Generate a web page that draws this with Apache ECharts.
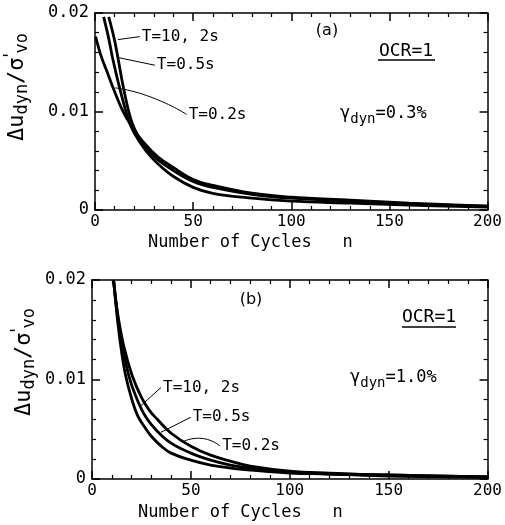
<!DOCTYPE html>
<html>
<head>
<meta charset="utf-8">
<script src="https://cdn.jsdelivr.net/npm/echarts@6/dist/echarts.min.js"></script>
<style>
  html, body { margin: 0; padding: 0; background: #fff; }
  #chart { width: 505px; height: 525px; }
</style>
</head>
<body>
<div id="chart"></div>
<script>
const FONT = 'DejaVu Sans Mono'

// panel (a), gamma_dyn = 0.3%   [n, du_dyn / sigma'_vo]
const a_T10 = [[7, 0.0196], [10, 0.0172], [12, 0.0151], [14.5, 0.0124], [18.3, 0.0092], [22, 0.0075], [26, 0.0063], [32, 0.0051], [40, 0.0040], [50, 0.0029], [60, 0.0023], [80, 0.0016], [100, 0.0012], [130, 0.0009], [160, 0.0006], [200, 0.0004]]
const a_T05 = [[4.4, 0.0196], [7, 0.0174], [9.1, 0.0153], [12.8, 0.0122], [17, 0.0092], [20, 0.0078], [26, 0.0060], [32, 0.0047], [40, 0.0034], [50, 0.0023], [60, 0.0017], [80, 0.0012], [100, 0.0009], [130, 0.0007], [160, 0.0005], [200, 0.0003]]
const a_T02 = [[0.3, 0.0176], [3, 0.0157], [6, 0.0141], [10, 0.0120], [14.5, 0.0099], [19, 0.0084], [25, 0.0068], [32, 0.0054], [40, 0.0043], [50, 0.0031], [60, 0.0025], [80, 0.0017], [100, 0.0013], [130, 0.0010], [160, 0.0007], [200, 0.0004]]

// panel (b), gamma_dyn = 1.0%
const b_T10 = [[10.9, 0.0200], [13, 0.0158], [15, 0.0127], [17, 0.0104], [20, 0.0081], [23, 0.0064], [27, 0.0051], [30, 0.0043], [35, 0.0033], [40, 0.0026], [50, 0.0019], [60, 0.0014], [70, 0.0011], [80, 0.0009], [100, 0.0006], [120, 0.0005], [150, 0.0003], [200, 0.0002]]
const b_T05 = [[10.9, 0.0200], [13, 0.0163], [15, 0.0137], [18.6, 0.0104], [22, 0.0084], [27, 0.0063], [33, 0.0048], [40, 0.0036], [50, 0.0026], [60, 0.0019], [70, 0.0014], [80, 0.0011], [100, 0.0007], [120, 0.0005], [150, 0.0004], [200, 0.0002]]
const b_T02 = [[10.9, 0.0200], [13, 0.0166], [16, 0.0134], [20.3, 0.0104], [25, 0.0082], [29, 0.0069], [33, 0.0060], [40, 0.0046], [50, 0.0033], [60, 0.0024], [70, 0.0018], [80, 0.0013], [100, 0.0008], [120, 0.0006], [150, 0.0004], [200, 0.0002]]

const curveNames = ['T=10, 2s', 'T=0.5s', 'T=0.2s']

// leader lines from curve to label text
const a_leaders = [
  [[11.7, 0.0173], [22.8, 0.0176]],
  [[11.2, 0.0155], [30.5, 0.0147]],
  [[10.2, 0.0124], [28, 0.0115], [46.7, 0.0097]]
]
const b_leaders = [
  [[24.9, 0.0074], [34.9, 0.0092]],
  [[34.9, 0.0047], [49.9, 0.0062]],
  [[45.5, 0.0037], [53.9, 0.0041], [64.8, 0.0033]]
]

const chart = echarts.init(document.getElementById('chart'), null, { renderer: 'canvas' })

const xAxis = (grid, pos) => ({
  type: 'value', gridIndex: grid, position: pos,
  min: 0, max: 200, interval: 50,
  axisLine: { show: true, onZero: false, lineStyle: { color: '#000', width: 1.5 } },
  axisTick: { show: true, inside: true, length: 8, lineStyle: { color: '#000', width: 1.5 } },
  minorTick: { show: true, splitNumber: 5, length: 4, lineStyle: { color: '#000', width: 1.2 } },
  axisLabel: { show: pos === 'bottom', margin: 4, color: '#000', fontFamily: FONT, fontSize: 16 },
  splitLine: { show: false }
})

const yAxis = (grid, pos) => ({
  type: 'value', gridIndex: grid, position: pos,
  min: 0, max: 0.02, interval: 0.01,
  axisLine: { show: true, onZero: false, lineStyle: { color: '#000', width: 1.5 } },
  axisTick: { show: true, inside: true, length: 8, lineStyle: { color: '#000', width: 1.5 } },
  minorTick: { show: true, splitNumber: 5, length: 4, lineStyle: { color: '#000', width: 1.2 } },
  axisLabel: {
    show: pos === 'left', margin: 6, color: '#000', fontFamily: FONT, fontSize: 17,
    formatter: v => v === 0 ? '0' : v.toFixed(2)
  },
  splitLine: { show: false }
})

const curve = (data, xi, yi) => ({
  type: 'line', data, xAxisIndex: xi, yAxisIndex: yi,
  smooth: 0.4, symbol: 'none', silent: true,
  lineStyle: { color: '#000', width: 2.8 }
})

const leader = (data, name, xi, yi) => ({
  type: 'line', data, xAxisIndex: xi, yAxisIndex: yi,
  smooth: data.length > 2 ? 0.6 : false, symbol: 'none', silent: true,
  lineStyle: { color: '#000', width: 1 },
  endLabel: { show: true, formatter: name, distance: 2, color: '#000', fontFamily: FONT, fontSize: 16 }
})

const txt = (x, y, text, extra) => ({
  type: 'text', x, y, silent: true,
  style: Object.assign({ text, fill: '#000', font: '17px ' + FONT, align: 'center', verticalAlign: 'middle' }, extra || {})
})

const richGamma = (x, y, val) => ({
  type: 'text', x, y, silent: true,
  style: {
    text: '{m|γ}{s|dyn}{m|=' + val + '}',
    fill: '#000', align: 'left', verticalAlign: 'middle',
    rich: {
      m: { fontFamily: FONT, fontSize: 17, lineHeight: 24, verticalAlign: 'middle' },
      s: { fontFamily: FONT, fontSize: 14, lineHeight: 12, verticalAlign: 'bottom' }
    }
  }
})

const richY = (x, y) => ({
  type: 'text', x, y, rotation: Math.PI / 2, silent: true,
  style: {
    text: '{m|Δu}{s|dyn}{m|/σ}{p|\'}{s|vo}',
    fill: '#000', align: 'center', verticalAlign: 'middle',
    rich: {
      m: { fontFamily: FONT, fontSize: 22, lineHeight: 28, verticalAlign: 'middle' },
      s: { fontFamily: FONT, fontSize: 17, lineHeight: 13, verticalAlign: 'bottom' },
      p: { fontFamily: FONT, fontSize: 17, lineHeight: 13, verticalAlign: 'top', width: 4 }
    }
  }
})

const option = {
  animation: false,
  backgroundColor: '#fff',
  grid: [
    { left: 95, top: 13, width: 394, height: 197 },
    { left: 92, top: 280, width: 401, height: 199 }
  ],
  xAxis: [xAxis(0, 'bottom'), xAxis(0, 'top'), xAxis(1, 'bottom'), xAxis(1, 'top')],
  yAxis: [yAxis(0, 'left'), yAxis(0, 'right'), yAxis(1, 'left'), yAxis(1, 'right')],
  series: [
    curve(a_T10, 0, 0), curve(a_T05, 0, 0), curve(a_T02, 0, 0),
    curve(b_T10, 2, 2), curve(b_T05, 2, 2), curve(b_T02, 2, 2),
    ...a_leaders.map((d, i) => leader(d, curveNames[i], 0, 0)),
    ...b_leaders.map((d, i) => leader(d, curveNames[i], 2, 2))
  ],
  graphic: [
    richY(17, 87),
    richY(24, 362),
    txt(148, 243, 'Number of Cycles   n', { align: 'left' }),
    txt(138, 513, 'Number of Cycles   n', { align: 'left' }),
    txt(327, 31, '(a)', { font: '16px DejaVu Sans' }),
    txt(406, 51, 'OCR=1', { font: '18px ' + FONT }),
    { type: 'line', silent: true, shape: { x1: 378, y1: 60, x2: 435, y2: 60 }, style: { stroke: '#000', lineWidth: 1.3 } },
    richGamma(340, 114, '0.3%'),
    txt(251, 300, '(b)', { font: '16px DejaVu Sans' }),
    txt(429, 317, 'OCR=1', { font: '18px ' + FONT }),
    { type: 'line', silent: true, shape: { x1: 402, y1: 327, x2: 456, y2: 327 }, style: { stroke: '#000', lineWidth: 1.3 } },
    richGamma(350, 378, '1.0%')
  ]
}

chart.setOption(option)
</script>
</body>
</html>
